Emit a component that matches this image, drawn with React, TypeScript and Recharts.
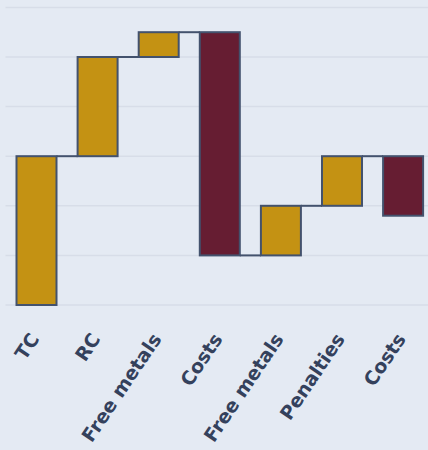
import { BarChart, Bar, XAxis, YAxis, CartesianGrid, Cell } from "recharts";

const CATEGORIES = ["TC", "RC", "Free metals", "Costs", "Free metals", "Penalties", "Costs"];
const STARTS = [0, 3, 5, 5.5, 1, 2, 3];
const ENDS = [3, 5, 5.5, 1, 2, 3, 1.8];
const Y_TICKS = [0, 1, 2, 3, 4, 5, 6];

const GOLD = "#c49213";
const MAROON = "#661d32";
const EDGE = "#43526d";
const BG = "#e4eaf3";

const W = 440;
const H = 450;
const M = { top: 7.4, right: 6.8, bottom: 0, left: 5.5 };
const BAND = (W - M.left - M.right) / CATEGORIES.length;

const data = CATEGORIES.map((name, i) => ({
  id: i,
  name,
  range: [Math.min(STARTS[i], ENDS[i]), Math.max(STARTS[i], ENDS[i])],
  up: ENDS[i] >= STARTS[i],
}));

// bar + connector to the next bar at the level where this one ends
function StepBar(props: any) {
  const { x, y, width, height, index, payload } = props;
  const top = Math.min(y, y + height);
  const h = Math.abs(height);
  const endY = payload.up ? top : top + h;
  return (
    <g>
      {index < CATEGORIES.length - 1 && (
        <line x1={x + width} x2={x + BAND} y1={endY} y2={endY} stroke={EDGE} strokeWidth={2} />
      )}
      <rect x={x} y={top} width={width} height={h} fill={props.fill} stroke={EDGE} strokeWidth={2} />
    </g>
  );
}

function Tick(props: any) {
  const { x, y, payload } = props;
  const tx = x + 4;
  const ty = y + 26;
  return (
    <text
      x={tx}
      y={ty}
      transform={`rotate(-56, ${tx}, ${ty})`}
      textAnchor="end"
      fill="#34415c"
      fontFamily="'DejaVu Sans', sans-serif"
      fontWeight={700}
      fontSize={19}
    >
      {CATEGORIES[payload.value]}
    </text>
  );
}

export default function App() {
  document.body.style.margin = "0";
  return (
    <div style={{ width: 428, height: H, overflow: "hidden", background: BG }}>
      <BarChart width={W} height={H} data={data} margin={M} barSize={40}>
        <CartesianGrid vertical={false} stroke="#d7dde8" strokeWidth={1.5} />
        <XAxis dataKey="id" axisLine={false} tickLine={false} height={145} tick={<Tick />} interval={0} />
        <YAxis hide domain={[0, 6]} ticks={Y_TICKS} />
        <Bar dataKey="range" shape={<StepBar />} isAnimationActive={false}>
          {data.map((d) => (
            <Cell key={d.id} fill={d.up ? GOLD : MAROON} />
          ))}
        </Bar>
      </BarChart>
    </div>
  );
}
